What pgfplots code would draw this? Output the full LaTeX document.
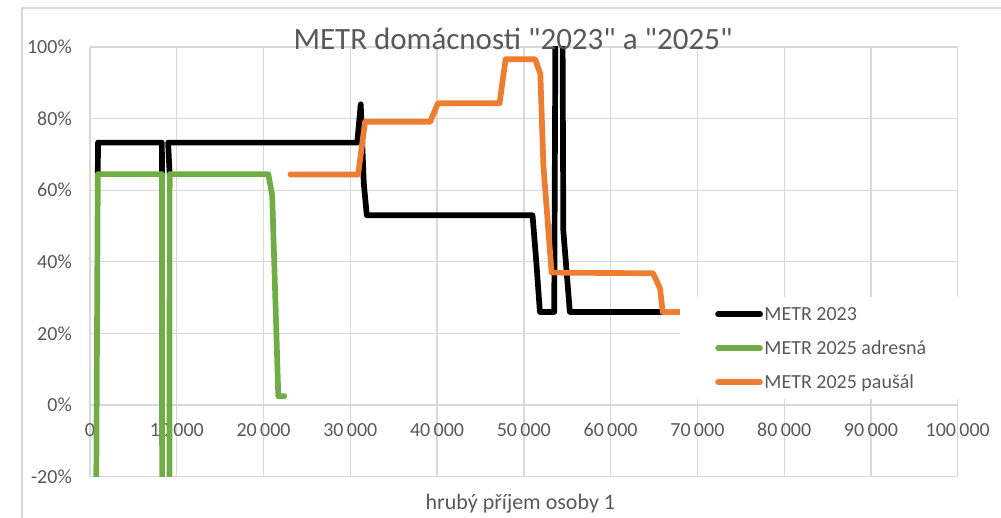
\documentclass[border=0pt]{standalone}
\usepackage{fontspec}
\setmainfont{Carlito}
\usepackage{pgfplots}
\pgfplotsset{compat=1.18}
\definecolor{gridc}{HTML}{D9D9D9}
\definecolor{txt}{HTML}{595959}
\definecolor{mgreen}{HTML}{70AD47}
\definecolor{morange}{HTML}{ED7D31}
\begin{document}
\begin{tikzpicture}
\useasboundingbox (0bp,0bp) rectangle (1001bp,518bp);
\draw[gridc, line width=1.3bp] (22bp,0bp) -- (22bp,510bp) -- (1001bp,510bp);
\begin{axis}[
  at={(90bp,41.3bp)}, anchor=south west,
  scale only axis, width=867.7bp, height=429.7bp,
  xmin=0, xmax=100000, ymin=-20, ymax=100,
  scaled x ticks=false, scaled y ticks=false,
  xtick={0,10000,20000,30000,40000,50000,60000,70000,80000,90000,100000},
  xticklabels={0,10\,000,20\,000,30\,000,40\,000,50\,000,60\,000,70\,000,80\,000,90\,000,100\,000},
  ytick={-20,0,20,40,60,80,100},
  yticklabels={-20\%,0\%,20\%,40\%,60\%,80\%,100\%},
  grid=major, major grid style={gridc, line width=1.3bp},
  axis line style={draw=none},
  major tick length=0pt,
  tick label style={font=\fontsize{20bp}{24bp}\selectfont, text=txt},
  yticklabel style={anchor=east, inner sep=0pt, xshift=-18bp},
  xticklabel style={anchor=base, inner sep=0pt, yshift=40bp},
  title={METR domácnosti \textquotedbl2023\textquotedbl{} a \textquotedbl2025\textquotedbl},
  title style={at={(axis description cs:0.4875,0.9814)}, anchor=base, font=\fontsize{31bp}{36bp}\selectfont, text=txt, inner sep=0pt},
  xlabel={hrubý příjem osoby 1},
  xlabel style={at={(axis description cs:0.496,-0.0775)}, anchor=base, font=\fontsize{22bp}{26bp}\selectfont, text=txt, inner sep=0pt},
  legend cell align=left,
  legend image code/.code={\draw[#1] (0bp,0bp) -- (42bp,0bp);},
  legend style={at={(axis description cs:0.6800,0.4182)}, anchor=north west, draw=none, fill=white,
    inner xsep=35bp, inner ysep=0pt, row sep=0pt, column sep=1.5bp,
    nodes={inner sep=0pt, text height=23.5bp, text depth=10.5bp},
    font=\fontsize{20bp}{24bp}\selectfont, text=txt},
  unbounded coords=jump,
  every axis plot/.append style={line width=5.7bp, line join=round, line cap=round},
]
\addplot[black] coordinates {
(900,64.5) (920,73.3) (8280,73.3) (8300,64.5) (8310,nan)
(9180,64.5) (9000,73.3) (30800,73.3) (31200,84) (31550,62) (31900,53)
(51000,53) (51450,39.5) (51850,26) (53500,26) (53700,140) (54400,140)
(54550,48.7) (55300,26) (66500,26)
};
\addlegendentry{METR 2023}
\addplot[mgreen] coordinates {
(560,-100) (900,64.5) (8300,64.5) (8320,-100) (9150,-100) (9180,64.5)
(20550,64.5) (21000,58.5) (21700,2.5) (22400,2.5)
};
\addlegendentry{METR 2025 adresná}
\addplot[morange] coordinates {
(23100,64.4) (30900,64.4) (31700,79.1) (39200,79.1) (40100,84.3) (47200,84.3)
(47900,96.6) (51300,96.6) (51900,92.5) (52250,67) (53200,37) (64900,36.8)
(65700,32.5) (66000,26) (70000,26)
};
\addlegendentry{METR 2025 paušál}
\end{axis}
\end{tikzpicture}
\end{document}
